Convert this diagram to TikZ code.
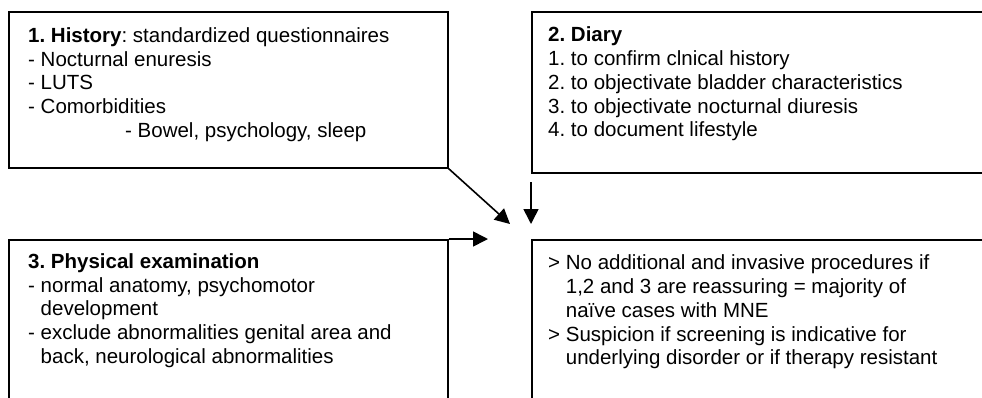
\documentclass[tikz,border=0pt]{standalone}
\usepackage{fontspec}
\setmainfont{Liberation Sans}
\usetikzlibrary{arrows.meta}
\frenchspacing
\begin{document}
\begin{tikzpicture}[x=1pt,y=-1pt,
  boxline/.style={draw=black, line width=1.6pt},
  txt/.style={anchor=north west, inner sep=0pt, align=left,
    font=\fontsize{20.5pt}{23.8pt}\selectfont\frenchspacing},
  arr/.style={draw=black, line width=1.6pt, -{Triangle[length=15pt,width=15pt]}}]
\useasboundingbox (0,0) rectangle (982,397);
\clip (0,0) rectangle (982,397);
\fill[white] (0,0) rectangle (982,397);
% boxes
\node[boxline, minimum width=439pt, minimum height=156pt, anchor=north west, inner sep=0pt] (b1) at (8,11) {};
\node[boxline, minimum width=470pt, minimum height=161pt, anchor=north west, inner sep=0pt] (b2) at (531,11) {};
\node[boxline, minimum width=439pt, minimum height=180pt, anchor=north west, inner sep=0pt] (b3) at (8,239) {};
\node[boxline, minimum width=470pt, minimum height=180pt, anchor=north west, inner sep=0pt] (b4) at (531,239) {};
% texts
\node[txt] (t1) at (28,27) {\rule{0pt}{15pt}\textbf{1. History}: standardized questionnaires\\
- Nocturnal enuresis\\
- LUTS\\
- Comorbidities\\
\hspace*{97pt}- Bowel, psychology, sleep};
\node[txt] (t2) at (548,26.5) {\rule{0pt}{15pt}\textbf{2. Diary}\\
1. to confirm clnical history\\
2. to objectivate bladder characteristics\\
3. to objectivate nocturnal diuresis\\
4. to document lifestyle};
\node[txt] (t3) at (28,253) {\rule{0pt}{15pt}\textbf{3. Physical examination}\\
- normal anatomy, psychomotor\\
\phantom{- }development\\
- exclude abnormalities genital area and\\
\phantom{- }back, neurological abnormalities};
\node[txt] (t4) at (548,254.5) {\rule{0pt}{15pt}> No additional and invasive procedures if\\
\phantom{> }1,2 and 3 are reassuring = majority of\\
\phantom{> }naïve cases with MNE\\
> Suspicion if screening is indicative for\\
\phantom{> }underlying disorder or if therapy resistant};
% arrow end points
\coordinate (e1) at (510,224);
\coordinate (e2) at (531,224);
\coordinate (s2) at (531,182);
\coordinate (e3) at (488,239);
\draw[arr] (b1.south east) -- (e1);
\draw[arr] (s2) -- (e2);
\draw[arr] (b3.north east) -- (e3);
\end{tikzpicture}
\end{document}
